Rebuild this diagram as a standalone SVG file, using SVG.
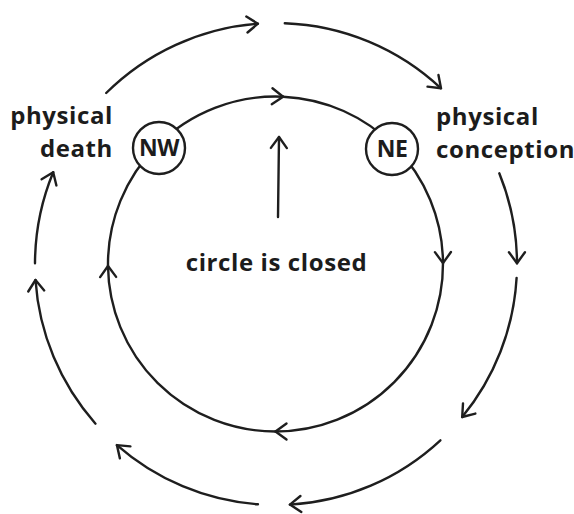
<svg xmlns="http://www.w3.org/2000/svg" width="574" height="514" viewBox="0 0 574 514">
<style>
.ln{fill:none;stroke:#1e1e1e;stroke-width:2.4;stroke-linecap:round;stroke-linejoin:round}
.arr{marker-end:url(#chev)}
.node{fill:#fff;stroke:#1e1e1e;stroke-width:2.4}
.lbl{font-family:"Open Sans","DejaVu Sans",sans-serif;font-weight:700;font-size:24px;letter-spacing:0.6px;fill:#1c1c1c}
.nl{font-family:"Open Sans","DejaVu Sans",sans-serif;font-weight:700;font-size:23px;letter-spacing:-0.5px;fill:#1c1c1c;text-anchor:middle}
</style>
<defs>
<marker id="chev" markerUnits="userSpaceOnUse" markerWidth="30" markerHeight="30" viewBox="-15 -15 30 30" refX="0" refY="0" orient="auto" overflow="visible">
<path d="M-11,-8 L0,0 L-11,8" fill="none" stroke="#1e1e1e" stroke-width="2.4" stroke-linecap="round" stroke-linejoin="round"/>
</marker>
</defs>
<rect width="574" height="514" fill="#fff"/>
<g id="connectors">
<path class="ln arr" d="M106.2,93 A241,241 0 0 1 257.9,23.7"/>
<path class="ln arr" d="M284.8,23.2 A241,241 0 0 1 441,88.3"/>
<path class="ln arr" d="M499.3,173.3 A241,241 0 0 1 517,263.2"/>
<path class="ln arr" d="M516.6,277.9 A241,241 0 0 1 462.2,417"/>
<path class="ln arr" d="M440.4,440.3 A241,241 0 0 1 289.9,504.6"/>
<path class="ln arr" d="M257.9,504.3 A241,241 0 0 1 116.9,445.1"/>
<path class="ln arr" d="M95.5,423.7 A241,241 0 0 1 35.5,280"/>
<path class="ln arr" d="M35,263.2 A241,241 0 0 1 53.2,172.2"/>
<path class="ln arr" d="M157.1,145.6 A167.5,167.5 0 0 1 283.1,96.7"/>
<path class="ln" d="M283.1,96.7 A167.5,167.5 0 0 1 394.7,146.4"/>
<path class="ln arr" d="M394.7,146.4 A167.5,167.5 0 0 1 443,263.1"/>
<path class="ln arr" d="M443,263.1 A167.5,167.5 0 0 1 275.5,431.5"/>
<path class="ln arr" d="M275.5,431.5 A167.5,167.5 0 0 1 108,266"/>
<path class="ln" d="M108,266 A167.5,167.5 0 0 1 157.1,145.6"/>
<path class="ln arr" d="M278,217 L279,137"/>
</g>
<g id="NW">
<circle class="node" cx="159" cy="148" r="26"/>
<text class="nl" x="159" y="156">NW</text>
</g>
<g id="NE">
<circle class="node" cx="392" cy="149" r="26"/>
<text class="nl" x="392" y="157">NE</text>
</g>
<g id="physical-death">
<text class="lbl" text-anchor="end"><tspan x="113" y="124">physical</tspan><tspan x="113" y="157">death</tspan></text>
</g>
<g id="physical-conception">
<text class="lbl"><tspan x="436" y="125">physical</tspan><tspan x="436" y="158">conception</tspan></text>
</g>
<g id="circle-closed">
<text class="lbl" x="276.5" y="271" text-anchor="middle">circle is closed</text>
</g>
</svg>
